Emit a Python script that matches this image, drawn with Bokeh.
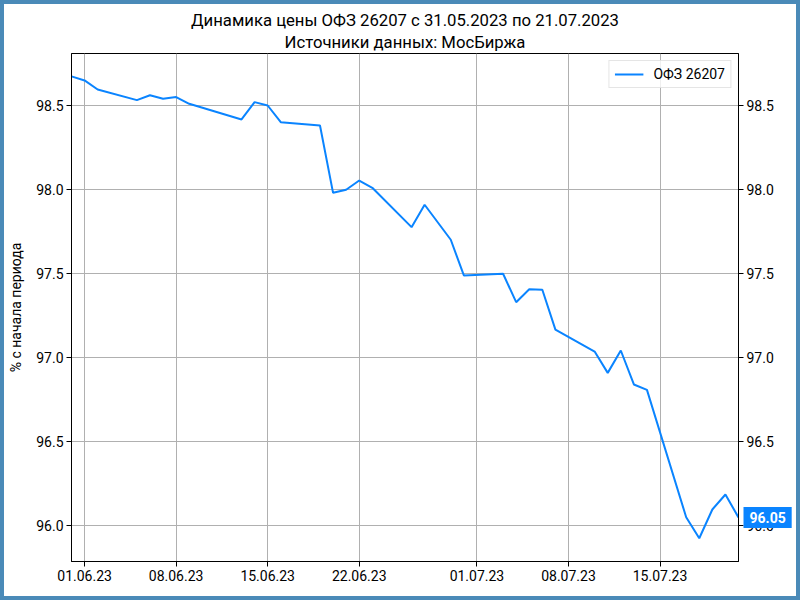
from datetime import datetime
from bokeh.plotting import figure
from bokeh.models import (Range1d, LinearAxis, FixedTicker, DatetimeTickFormatter,
                          NumeralTickFormatter, Legend, LegendItem, ColumnDataSource, Title)
from bokeh.core.properties import value
from bokeh.embed import file_html
from bokeh.resources import INLINE

# ---- data ----
dates = ["2023-05-31", "2023-06-01", "2023-06-02", "2023-06-05", "2023-06-06",
         "2023-06-07", "2023-06-08", "2023-06-09", "2023-06-13", "2023-06-14",
         "2023-06-15", "2023-06-16", "2023-06-19", "2023-06-20", "2023-06-21",
         "2023-06-22", "2023-06-23", "2023-06-26", "2023-06-27", "2023-06-29",
         "2023-06-30", "2023-07-03", "2023-07-04", "2023-07-05", "2023-07-06",
         "2023-07-07", "2023-07-10", "2023-07-11", "2023-07-12", "2023-07-13",
         "2023-07-14", "2023-07-17", "2023-07-18", "2023-07-19", "2023-07-20",
         "2023-07-21"]
values = [98.671, 98.647, 98.593, 98.530, 98.559,
          98.538, 98.548, 98.508, 98.415, 98.518,
          98.498, 98.399, 98.379, 97.979, 97.997,
          98.052, 98.009, 97.775, 97.908, 97.700,
          97.488, 97.498, 97.329, 97.406, 97.403,
          97.166, 97.036, 96.909, 97.042, 96.840,
          96.808, 96.051, 95.926, 96.097, 96.186,
          96.050]
x_tick_dates = ["2023-06-01", "2023-06-08", "2023-06-15", "2023-06-22",
                "2023-07-01", "2023-07-08", "2023-07-15"]
y_ticks = [96.0, 96.5, 97.0, 97.5, 98.0, 98.5]
series_name = "ОФЗ 26207"
last_value_text = "96.05"
title_line1 = "Динамика цены ОФЗ 26207 с 31.05.2023 по 21.07.2023"
title_line2 = "Источники данных: МосБиржа"
y_label = "% с начала периода"

# ---- build ----
def to_ms(d):
    return (datetime.strptime(d, "%Y-%m-%d") - datetime(1970, 1, 1)).total_seconds() * 1000

x_ms = [to_ms(d) for d in dates]
ticks_ms = [to_ms(d) for d in x_tick_dates]
src = ColumnDataSource(dict(x=x_ms, y=values))
tag_src = ColumnDataSource(dict(x=[x_ms[-1]], y=[values[-1]], text=[last_value_text]))

FONT = "Roboto"
LINE = "#0a84ff"

p = figure(width=800, height=600, output_backend="svg", toolbar_location=None,
           x_axis_type="datetime", title=None,
           x_range=Range1d(x_ms[0], x_ms[-1]), y_range=Range1d(95.788, 98.807),
           min_border_left=71, min_border_right=62, min_border_top=53, min_border_bottom=39)
p.border_fill_alpha = 0
p.styles = {"background-color": "#ffffff", "box-shadow": "inset 0 0 0 4px #4a8ab8"}

for txt, so in ((title_line2, 3), (title_line1, 0)):
    t = Title(text=txt, align="center", text_font=FONT, text_font_size="16.7px",
              text_font_style="normal", text_color="black", standoff=so)
    p.add_layout(t, "above")

r = p.line("x", "y", source=src, line_color=LINE, line_width=2)

p.xaxis.ticker = FixedTicker(ticks=ticks_ms)
p.xaxis.formatter = DatetimeTickFormatter(days="%d.%m.%y", months="%d.%m.%y")
p.yaxis.ticker = FixedTicker(ticks=y_ticks)
p.yaxis.formatter = NumeralTickFormatter(format="0.0")
p.yaxis.axis_label = y_label

right = LinearAxis(ticker=FixedTicker(ticks=y_ticks), formatter=NumeralTickFormatter(format="0.0"))
p.add_layout(right, "right")

for ax in p.axis:
    ax.major_label_text_font = FONT
    ax.major_label_text_font_size = "14px"
    ax.major_label_text_color = "black"
    ax.axis_label_text_font = FONT
    ax.axis_label_text_font_size = "14px"
    ax.axis_label_text_font_style = "normal"
    ax.axis_label_text_color = "black"
    ax.axis_line_color = "black"
    ax.major_tick_line_color = "black"
    ax.major_tick_out = 5
    ax.major_tick_in = 0
    ax.minor_tick_line_color = None
    ax.major_label_standoff = 3
    ax.axis_label_standoff = 9

p.outline_line_color = "black"
p.outline_line_alpha = 1
p.xgrid.ticker = FixedTicker(ticks=ticks_ms)
p.ygrid.ticker = FixedTicker(ticks=y_ticks)
p.grid.grid_line_color = "#b0b0b0"
p.grid.grid_line_width = 1

legend = Legend(items=[LegendItem(label=series_name, renderers=[r])],
                location="top_right", margin=7, padding=5,
                glyph_width=29, glyph_height=14, label_standoff=10,
                label_height=14, label_text_font=FONT, label_text_font_size="14px",
                label_text_color="black",
                border_line_color="#cccccc", border_line_width=1,
                background_fill_alpha=0.8)
p.add_layout(legend)

# value tag next to the right axis, drawn at overlay level
p.text("x", "y", text="text", source=tag_src, level="overlay",
       x_offset=5, text_baseline="middle", text_align="left",
       text_font=value(FONT), text_font_size="14px", text_font_style="bold",
       text_color="white", background_fill_color=LINE, background_fill_alpha=1.0,
       padding=dict(left=6, right=6, top=5, bottom=5))

open("out.html", "w").write(file_html(p, INLINE))
